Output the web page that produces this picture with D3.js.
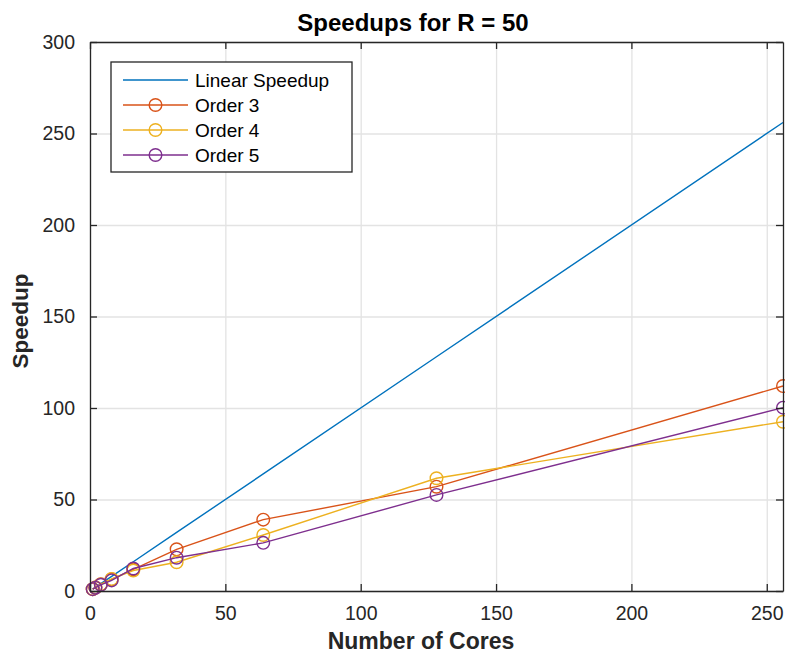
<!DOCTYPE html>
<html>
<head>
<meta charset="utf-8">
<script src="https://cdn.jsdelivr.net/npm/d3@7"></script>
<style>
  body { margin: 0; background: #fff; }
  svg { display: block; font-family: "Liberation Sans", Arial, Helvetica, sans-serif; }
</style>
</head>
<body>
<svg id="chart" width="785" height="654"></svg>
<script>
const cores = [1, 2, 4, 8, 16, 32, 64, 128, 256];
const linearSpeedup = [1, 2, 4, 8, 16, 32, 64, 128, 256];
const order3 = [1, 1.9, 3.7, 6.4, 11.8, 22.8, 39, 57, 112];
const order4 = [1, 1.9, 3.6, 6.6, 11.2, 15.7, 30.6, 61.6, 92.5];
const order5 = [1, 1.8, 3.4, 5.8, 12.3, 18.2, 26.3, 52.5, 100.2];
const xTicks = [0, 50, 100, 150, 200, 250];
const yTicks = [0, 50, 100, 150, 200, 250, 300];
const seriesNames = ["Linear Speedup", "Order 3", "Order 4", "Order 5"];
const seriesColors = ["#0072BD", "#D95319", "#EDB120", "#7E2F8E"];

const svg = d3.select("#chart");
const L = 90, R = 783, T = 42, B = 591;
const x = d3.scaleLinear().domain([0, 256]).range([L, R]);
const y = d3.scaleLinear().domain([0, 300]).range([B, T]);
const axisCol = "#262626";

// grid
svg.append("g").attr("transform", `translate(0,${B})`)
  .call(d3.axisBottom(x).tickValues(xTicks).tickSize(-(B - T)).tickFormat(""))
  .call(g => g.select(".domain").remove())
  .call(g => g.selectAll("line").attr("stroke", "#e3e3e3").attr("stroke-width", 1.3));
svg.append("g").attr("transform", `translate(${L},0)`)
  .call(d3.axisLeft(y).tickValues(yTicks).tickSize(-(R - L)).tickFormat(""))
  .call(g => g.select(".domain").remove())
  .call(g => g.selectAll("line").attr("stroke", "#e3e3e3").attr("stroke-width", 1.3));

// series
const series = [
  { name: seriesNames[0], vals: linearSpeedup, color: seriesColors[0], marker: false },
  { name: seriesNames[1], vals: order3, color: seriesColors[1], marker: true },
  { name: seriesNames[2], vals: order4, color: seriesColors[2], marker: true },
  { name: seriesNames[3], vals: order5, color: seriesColors[3], marker: true },
];
const line = d3.line().x(d => x(d[0])).y(d => y(d[1]));
series.forEach(s => {
  const pts = cores.map((c, i) => [c, s.vals[i]]);
  svg.append("path").datum(pts).attr("d", line)
    .attr("fill", "none").attr("stroke", s.color).attr("stroke-width", 1.4);
  if (s.marker) {
    svg.append("g").selectAll("circle").data(pts).join("circle")
      .attr("cx", d => x(d[0])).attr("cy", d => y(d[1])).attr("r", 6.3)
      .attr("fill", "none").attr("stroke", s.color).attr("stroke-width", 1.4);
  }
});

// axes
function styleAxis(g) {
  g.select(".domain").attr("stroke", axisCol).attr("stroke-width", 1.3);
  g.selectAll(".tick line").attr("stroke", axisCol).attr("stroke-width", 1.3);
  g.selectAll("text").attr("fill", axisCol).attr("font-size", "19.5px")
    .attr("font-family", "'Liberation Sans', Arial, sans-serif");
}
svg.append("g").attr("transform", `translate(0,${B})`)
  .call(d3.axisBottom(x).tickValues(xTicks).tickSize(-7).tickSizeOuter(0).tickPadding(15))
  .call(styleAxis);
svg.append("g").attr("transform", `translate(0,${T})`)
  .call(d3.axisTop(x).tickValues(xTicks).tickSize(-7).tickSizeOuter(0).tickFormat(""))
  .call(styleAxis);
svg.append("g").attr("transform", `translate(${L},0)`)
  .call(d3.axisLeft(y).tickValues(yTicks).tickSize(-7).tickSizeOuter(0).tickPadding(15))
  .call(styleAxis);
svg.append("g").attr("transform", `translate(${R},0)`)
  .call(d3.axisRight(y).tickValues(yTicks).tickSize(-7).tickSizeOuter(0).tickFormat(""))
  .call(styleAxis);

// title & labels
svg.append("text").attr("x", 413).attr("y", 31).attr("text-anchor", "middle")
  .attr("font-weight", "bold").attr("font-size", "24px").attr("fill", "#000")
  .text("Speedups for R = 50");
svg.append("text").attr("x", 421).attr("y", 649).attr("text-anchor", "middle")
  .attr("font-weight", "bold").attr("font-size", "23px").attr("fill", axisCol)
  .text("Number of Cores");
svg.append("text").attr("transform", "translate(28,321) rotate(-90)").attr("text-anchor", "middle")
  .attr("font-weight", "bold").attr("font-size", "22.5px").attr("fill", axisCol)
  .text("Speedup");

// legend
const lg = svg.append("g");
lg.append("rect").attr("x", 111).attr("y", 62).attr("width", 241).attr("height", 110)
  .attr("fill", "#fff").attr("stroke", axisCol).attr("stroke-width", 1.3);
series.forEach((s, i) => {
  const cy = 80 + i * 25;
  lg.append("line").attr("x1", 123).attr("x2", 188).attr("y1", cy).attr("y2", cy)
    .attr("stroke", s.color).attr("stroke-width", 1.4);
  if (s.marker) lg.append("circle").attr("cx", 155.5).attr("cy", cy).attr("r", 6.3)
    .attr("fill", "none").attr("stroke", s.color).attr("stroke-width", 1.4);
  lg.append("text").attr("x", 195).attr("y", cy).attr("dy", "0.35em")
    .attr("font-size", "19px").attr("fill", "#000").text(s.name);
});
</script>
</body>
</html>
